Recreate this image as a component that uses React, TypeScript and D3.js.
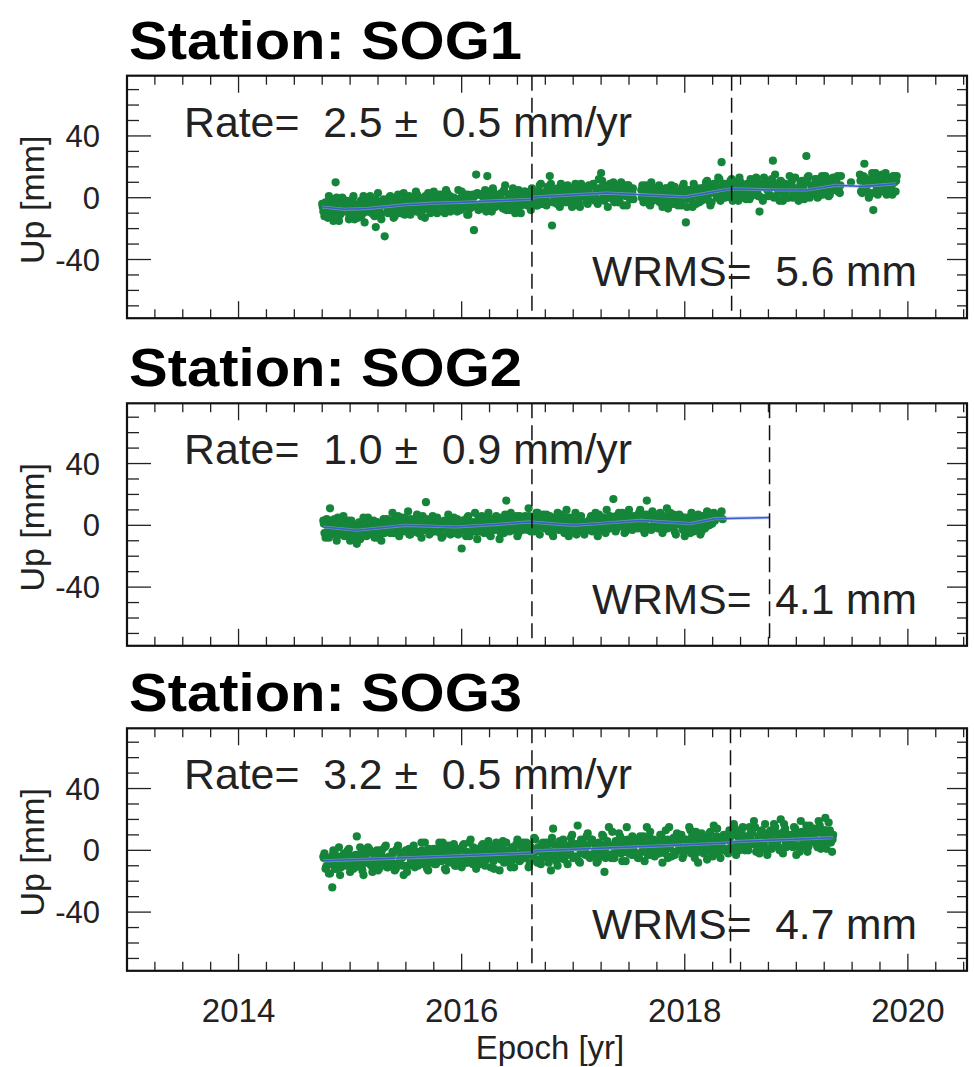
import React from "react";
import * as d3 from "d3";

// ---------- data ----------
const STEP = 0.02; // yr between plotted solutions in each list

const SOG1_START = 2014.75;
const SOG1_UP = [
  -4, -12, -6, 1, -9, -15, 10, -7, -11, 0,
  -8, -2, -14, -5, 1, -10, -13, -6, -3, -16,
  -6, 0, -8, -11, -19, 3, -10, -5, -25, -4,
  0, -6, -13, -1, 2, -8, -5, -11, -3, 1,
  -8, -3, 4, -9, -6, -1, -13, 1, -4, -7,
  4, -9, -1, 1, -4, -10, 3, -2, -7, 0,
  -5, 5, -8, -3, 2, -11, -1, -6, -21, 15,
  -8, 2, -3, 5, 14, 0, -9, 3, -2, -4,
  2, -7, 8, -3, -8, 3, 0, -5, 5, -10,
  1, 4, -5, -1, 6, -3, -5, 4, 9, -4,
  -2, 7, 14, -18, 5, 0, -4, 9, 1, -3,
  8, 0, -6, 5, 3, -3, 9, 1, 6, -4,
  2, 8, -1, 5, 12, 16, 3, 6, -6, 9,
  7, -3, 4, 1, 10, -5, 5, 8, -1, 3,
  null, null, null, 5, -3, 8, 1, -5, 4, 6,
  -1, 8, -3, 2, 6, -7, 4, 0, 7, -4,
  3, -5, 9, -16, 1, 5, -6, 7, 2, -3,
  -2, 6, 10, 2, -5, 8, 5, 0, 12, 23,
  9, 1, 5, 11, -2, 8, 3, 13, 0, 6,
  -1, 7, 12, 2, 9, 4, -9, 0, 13, 8,
  1, 11, 24, 15, 6, -2, 10, 2, 7, 0,
  8, 0, 13, 5, 2, 11, -1, 27, 14, 4,
  3, 12, 0, 9, 14, 5, 11, 1, 8, 13,
  5, 14, 3, null, null, null, null, 10, null, null,
  null, 15, 3, 22, 9, 0, 12, -8, 16, 2,
  5, 15, 9, 2, 12, 7, 14, 4,
];
const SOG1_START_B = 2014.76;
const SOG1_UP_B = [
  -9, -3, -13, -6, -2, -10, 0, -15, -7, -4,
  -2, -8, -11, -1, -14, -5, -7, -12, 1, -9,
  -9, 1, -4, -12, -2, -7, -14, -1, -5, -10,
  1, -7, -12, -2, -5, -10, 3, -8, -1, -11,
  -9, -2, 2, -5, -12, 0, -6, 3, -10, -3,
  0, -10, -3, 2, -7, 5, -4, -9, -1, -6,
  -9, -2, 4, -6, 1, -11, -3, 2, -5, 3,
  2, -7, 0, -9, 4, -3, 6, -6, -1, -5,
  -4, 5, -8, 2, -6, 6, -10, 0, 4, -3,
  4, -4, 1, -8, -1, 3, -5, 8, -2, 3,
  -5, 3, 9, -3, 0, 6, -6, 4, 7, -1,
  5, -4, 3, 9, -1, -6, 6, 2, -3, 8,
  -1, 9, 2, -4, 6, 11, -2, 4, 1, 7,
  10, 0, -3, 5, 2, 8, -5, 7, 3, -1,
  null, null, null, 8, -2, 4, -4, 10, 0, 5,
  6, -1, -6, 5, 1, -4, 8, -2, 3, -5,
  -2, 7, 2, -6, 5, -1, 9, -4, 1, 6,
  6, 0, 11, 3, -3, 9, 2, 13, -2, 7,
  0, 8, 4, 12, 2, 7, -2, 10, 6, 1,
  9, -1, 6, 3, 13, 1, 8, -2, 11, 5,
  2, 12, 0, 7, 4, 11, -2, 9, 5, 14,
  11, 1, 5, -2, 10, 7, 3, 13, 0, 8,
  5, 12, 1, 10, 3, 14, 7, 2, 11, 6,
  12, 5, 14, null, null, null, null, null, null, null,
  null, 4, 14, 7, 11, 2, 16, 10, 5, 13,
  11, 4, 16, 7, 13, 2, 10, 14,
];
const SOG1_START_C = 2014.755;
const SOG1_UP_C = [
  -6, -10, -3, -12, -7, -5, -11, -2, -9, -4,
  -9, -3, -12, -6, -4, -11, -7, -2, -10, -5,
  -3, -7, -10, -1, -8, -5, -11, -4, -2, -9,
  -8, 0, -4, -9, -3, -10, -2, -6, -1, -5,
  0, -6, -9, -1, -4, -8, 1, -5, -2, -7,
  -7, -2, 2, -5, 0, -8, -3, 1, -6, -1,
  -1, -8, 0, -4, -6, 2, -7, -2, 1, -5,
  -5, 2, -3, 0, -7, -1, 3, -6, -2, 1,
  3, -4, -2, -6, 2, -3, 0, -7, 3, -5,
  -3, 2, -5, 4, 0, -4, 4, -1, -4, 2,
  4, -3, 2, 6, -1, -4, 3, 0, 5, 1,
  1, 6, -1, 4, -3, 5, 2, 7, 0, 3,
  7, 1, -2, 4, 6, -1, 8, 3, 0, 5,
  -1, 4, 7, -2, 5, 3, 1, 8, -1, 6,
  null, null, null, 0, 6, -1, 3, 7, -2, 4,
  4, -3, 2, 0, 6, -2, 3, -4, 5, 1,
  -3, 3, 6, -1, 1, 4, -4, 2, 5, -2,
  5, 1, 8, -2, 6, 4, 9, 2, 0, 7,
  3, 9, 5, 0, 8, 10, 2, 6, 1, 7,
  8, 4, 1, 10, 5, 2, 9, 0, 7, 6,
  2, 7, 10, 1, 6, 9, 3, 5, 0, 8,
  9, 2, 6, 0, 8, 5, 3, 10, 1, 7,
  4, 9, 11, 6, 2, 10, 7, 12, 5, 8,
  10, 4, 8, null, null, null, null, null, null, null,
  null, 11, 6, 13, 4, 9, 3, 12, 8, 7,
  7, 13, 9, 5, 12, 8, 14, 11,
];
const SOG1_FIT_T = [2014.75, 2014.95, 2015.15, 2015.5, 2015.75, 2016.0, 2016.3, 2016.63, 2016.65, 2016.9, 2017.3, 2017.6, 2018.0, 2018.42, 2018.8, 2019.1, 2019.35, 2019.6, 2019.89];
const SOG1_FIT_UP = [-6, -7.5, -7, -4.5, -3.5, -3, -2, -1, 0.5, 1.5, 3, 2, 0.5, 5.8, 5, 5, 8, 7.3, 9];
const SOG1_BREAKS = [2016.63, 2018.42];

const SOG2_START = 2014.76;
const SOG2_UP = [
  3, -8, 1, 11, -5, 4, -10, 0, -6, 6,
  -5, 3, -10, 0, -2, -12, 2, -7, 5, -4,
  5, -5, -2, -8, 2, 0, -10, 4, -3, 1,
  -5, 8, -2, 1, -7, 5, 3, -4, 9, -6,
  2, -4, 7, -1, -8, 4, 15, 0, -5, 6,
  -4, 5, 0, -8, 2, -2, 7, -6, 1, -5,
  4, -3, -15, 3, -7, 6, -1, -4, 8, -9,
  -1, 6, -5, 3, 8, -7, 2, -3, 5, -9,
  5, -5, 16, -1, 8, -3, 2, -7, 6, 1,
  -2, 5, 11, -4, 3, 0, 8, -6, 6, 1,
  7, -4, 3, -7, 5, 8, -2, 1, -5, 10,
  -7, 3, -1, 8, -4, 5, 1, -6, 2, -3,
  6, -1, 8, -7, 1, 5, -4, 10, -2, 3,
  17, -4, 6, 1, 8, -5, 5, 10, -2, 3,
  5, -2, 10, 0, -5, 16, 7, -3, 4, 1,
  -2, 8, -5, 4, 11, -1, 2, 7, -6, 5,
  6, -2, -7, 5, 2, 8, -4, 0, 7, -6,
  6, -2, 9, 0, 3, 8, null, 7, null, 4,
];
const SOG2_START_B = 2014.77;
const SOG2_UP_B = [
  -5, 4, -8, 1, -2, -6, 5, -4, 2, -7,
  1, -5, 3, -8, -2, 0, -9, -3, -6, 2,
  -6, 0, 3, -3, -8, 1, -2, -5, 4, -4,
  3, -5, 0, 6, -2, -4, 5, -1, -6, 2,
  -2, 4, -5, 1, 6, -3, 2, -6, 3, 0,
  4, -4, 1, -7, -1, 3, -5, 0, 5, -3,
  -6, 0, 3, -3, 5, -7, 2, -1, -4, 4,
  2, -4, -1, 5, -6, 3, -2, 6, 0, -5,
  -2, 7, 2, -4, 4, -1, 6, -5, 3, 0,
  6, -3, 0, 5, -4, 8, 2, -1, 7, -2,
  -1, 6, -5, 2, 4, -3, 7, 0, -4, 3,
  5, -1, 3, -6, 0, 6, -4, 2, -2, 4,
  -4, 3, -2, 7, 0, 5, -5, 2, 6, -1,
  5, -2, 8, 0, 3, -4, 6, 1, -3, 4,
  0, 8, 2, -3, 7, 5, -1, 9, 3, 1,
  6, 0, -3, 5, 2, 8, -1, -4, 4, 7,
  0, 5, -3, 3, -5, 6, 2, -2, 4, -4,
  5, -1, 8, 2, 6, 3, null, null, 9, null,
];
const SOG2_START_C = 2014.765;
const SOG2_UP_C = [
  1, -5, -2, 3, -4, 0, -6, 2, -3, 1,
  -4, 0, -7, -1, -3, -6, 1, -5, -2, -7,
  1, -4, -1, -6, 2, -2, -5, 0, -3, 1,
  -3, 2, 4, -1, -4, 3, 0, -2, 1, 4,
  1, -4, 2, -2, 3, -3, 4, 0, -1, 2,
  -3, 2, -5, 0, 3, -2, -4, 1, -1, -5,
  2, -1, -3, 3, -5, 0, -2, 2, -4, 1,
  -4, 2, 3, -1, 1, -3, 4, -2, 0, 3,
  3, -2, 0, 5, -3, 1, 4, -1, 2, -3,
  -1, 3, 6, 0, 4, -2, 2, 5, 1, 4,
  5, -1, 1, -3, 4, 2, -2, 3, 0, 5,
  -2, 3, -4, 1, 0, 4, -1, -3, 2, -2,
  4, 0, 3, -3, 5, -1, 1, 4, -2, 2,
  0, 6, -1, 3, 5, -2, 4, 2, 1, 6,
  4, 0, 7, 1, 3, 6, -1, 5, 2, 7,
  -1, 4, 2, 6, -2, 3, 5, 0, 4, 1,
  3, -3, 4, 0, 2, -1, 5, 1, -2, 3,
  2, 6, 3, 7, 1, 5, null, null, null, null,
];
const SOG2_FIT_T = [2014.76, 2015.06, 2015.5, 2015.95, 2016.3, 2016.6, 2017.0, 2017.3, 2017.6, 2018.05, 2018.27, 2018.76];
const SOG2_FIT_UP = [-1.1, -3.2, 0, -1.1, 0.5, 2.2, 0, 1.5, 3.2, 1.1, 4.3, 5.0];
const SOG2_BREAKS = [2016.63, 2018.76];

const SOG3_START = 2014.76;
const SOG3_UP = [
  -4, -12, -5, -15, -24, -1, -8, 2, -11, -6,
  -9, 0, -14, -4, -11, 9, -7, -2, -16, -3,
  2, -9, -14, -4, 0, -12, -3, -7, 3, -11,
  -6, -1, -13, 1, -8, -3, -16, 0, -10, -5,
  1, -11, -1, -6, 5, -9, -4, -13, 0, -7,
  -9, -1, 5, -7, -2, -13, 3, -4, 0, -10,
  1, -6, -11, 4, -8, -2, 7, -9, -1, -5,
  -9, 3, -2, -6, 6, -11, 1, -4, 4, -13,
  0, -8, 5, -3, -11, 2, -5, 7, -7, -1,
  -5, 5, -11, 2, -3, 7, -8, -1, 4, -4,
  5, -8, -13, 14, -4, -10, 6, 0, -6, 3,
  -2, 8, -5, 2, 16, -8, 5, -1, 9, -4,
  7, -3, 1, -7, 4, 10, -14, 3, 15, -5,
  -5, 6, 0, 9, -7, 3, 15, -2, 7, 1,
  6, -5, 9, -1, -7, 15, 3, -3, 7, 2,
  -2, 10, -8, 5, 1, 15, -4, 8, -1, 4,
  10, -5, 7, 1, 15, -2, 4, 12, -8, 6,
  0, 7, -6, 11, 3, 16, -2, 6, -5, 9,
  7, -1, 13, 3, 17, -3, 9, 4, 15, 0,
  2, 15, 5, 19, -1, 9, 12, 3, 17, -3,
  12, 1, 17, 4, 8, 20, -2, 14, 3, 10,
  4, 15, -3, 11, 19, 2, 8, -1, 16, 6,
  14, 4, 19, 1, 10, 21, 6, 13, -1,
];
const SOG3_START_B = 2014.77;
const SOG3_UP_B = [
  -2, -10, -15, -5, 0, -12, -7, -16, -4, -8,
  -10, 1, -5, -12, -3, -8, 2, -13, -6, -2,
  1, -10, -2, -6, -13, 0, -8, 2, -11, -4,
  -7, -1, -12, 3, -5, -10, -2, -14, 1, -8,
  3, -5, -10, -1, -8, 5, -12, -2, -6, 1,
  -9, 1, -5, 5, -12, -2, 2, -7, 4, -10,
  0, -10, 3, -4, -8, 5, -6, -1, -12, 1,
  -7, 4, -10, 0, 3, -4, -12, 5, -2, -6,
  6, -5, -1, -8, 2, -11, 4, -3, -6, 5,
  -4, 4, -8, -1, 8, -6, 1, -9, 5, -2,
  4, -6, 8, -2, -7, 3, -4, 7, 1, -9,
  -1, 10, -4, 4, -7, 7, 1, -3, 11, -5,
  7, -2, -8, 5, 0, 9, -5, 3, -3, 12,
  -5, 5, 11, -2, 2, -7, 7, 0, 9, -3,
  7, -5, 5, 9, 0, -3, 12, 2, -4, 6,
  -2, 10, 1, 13, -5, 4, 7, -3, 11, 0,
  10, -3, 7, 0, 13, 3, -5, 9, 2, 11,
  -2, 8, 1, 12, -4, 6, 14, -1, 4, 10,
  8, -2, 11, 1, 14, 4, 0, 13, 3, 9,
  0, 11, 4, 15, 6, -2, 13, 3, 10, 1,
  13, 3, 15, 6, 0, 11, 17, 2, 9, 5,
  2, 14, 9, -1, 12, 5, 16, 3, 8, 13,
  11, 2, 16, 6, 13, 1, 18, 5, 10,
];
const SOG3_START_C = 2014.765;
const SOG3_UP_C = [
  -5, -11, -6, -9, -3, -12, -7, -4, -10, -2,
  -9, -2, -7, -4, -11, -3, -6, -10, -1, -8,
  -1, -7, -10, -4, -2, -8, 0, -6, -5, -9,
  -6, -2, -9, 0, -7, -5, -1, -10, -3, -8,
  -1, -9, -2, -5, 0, -7, -4, 1, -8, -3,
  -7, -1, -5, 2, -4, 0, -8, -3, 1, -6,
  -2, -6, 1, -8, -1, -3, -5, 2, -7, 0,
  -4, 3, -6, -1, 1, -3, -7, 0, 2, -5,
  2, -3, -5, 0, -7, 1, -2, -6, 3, -4,
  -4, 1, 4, -3, -1, -6, 2, 0, -5, 3,
  3, -4, -1, 4, -2, 2, -5, 5, 0, -3,
  -1, 5, 2, -4, 4, -2, 6, 0, 3, -3,
  5, -2, 1, 4, -4, 2, -1, 6, -3, 3,
  -2, 3, 5, 0, 7, -1, 2, 6, -3, 4,
  5, -2, 7, 2, 4, 0, 8, 1, 6, -1,
  0, 6, 3, -2, 7, 2, 5, -1, 8, 4,
  8, 2, 0, 6, 4, 9, 1, 5, -1, 7,
  3, 8, -1, 7, 1, 5, 9, 2, 4, 0,
  8, 1, 6, 3, 10, 0, 7, 9, 2, 5,
  2, 8, 11, 5, 3, 9, 6, 1, 10, 7,
  9, 4, 6, 11, 2, 8, 12, 5, 10, 3,
  4, 11, 8, 3, 9, 6, 12, 2, 10, 7,
  10, 6, 12, 4, 8, 13, 5, 9, 7,
];
const SOG3_FIT_T = [2014.76, 2015.86, 2016.64, 2016.66, 2017.69, 2018.42, 2018.44, 2019.33];
const SOG3_FIT_UP = [-6.8, -3.9, -1.7, -0.3, 2.6, 4.9, 5.6, 8.2];
const SOG3_BREAKS = [2016.63, 2018.41];

const STATION_NAMES = ["SOG1", "SOG2", "SOG3"];
const RATES = ["2.5", "1.0", "3.2"];
const RATE_ERRS = ["0.5", "0.9", "0.5"];
const WRMS = ["5.6", "4.1", "4.7"];

const X_DOMAIN = [2013, 2020.53];
const Y_DOMAIN = [-78, 79];
const X_TICKS = [2014, 2016, 2018, 2020];
const Y_TICKS = [-40, 0, 40];

// ---------- layout ----------
const W = 974;
const H = 1067;
const LEFT = 127;
const RIGHT = 967;
const PANEL_TOPS = [75.7, 403.3, 728.3];
const PANEL_H = 242.5;
const FONT = "'Liberation Sans', Arial, Helvetica, sans-serif";
const GREEN = "#15853a";
const BLUE = "#3a5ccc";

type Station = { lists: [number, (number | null)[]][]; fitT: number[]; fitUp: number[]; breaks: number[] };
const stations: Station[] = [
  { lists: [[SOG1_START, SOG1_UP], [SOG1_START_B, SOG1_UP_B], [SOG1_START_C, SOG1_UP_C]], fitT: SOG1_FIT_T, fitUp: SOG1_FIT_UP, breaks: SOG1_BREAKS },
  { lists: [[SOG2_START, SOG2_UP], [SOG2_START_B, SOG2_UP_B], [SOG2_START_C, SOG2_UP_C]], fitT: SOG2_FIT_T, fitUp: SOG2_FIT_UP, breaks: SOG2_BREAKS },
  { lists: [[SOG3_START, SOG3_UP], [SOG3_START_B, SOG3_UP_B], [SOG3_START_C, SOG3_UP_C]], fitT: SOG3_FIT_T, fitUp: SOG3_FIT_UP, breaks: SOG3_BREAKS },
];

function Panel({ idx }: { idx: number }) {
  const st = stations[idx];
  const top = PANEL_TOPS[idx];
  const bottom = top + PANEL_H;
  const x = d3.scaleLinear().domain(X_DOMAIN).range([LEFT, RIGHT]);
  const y = d3.scaleLinear().domain(Y_DOMAIN).range([bottom, top]);

  const pts: { t: number; v: number }[] = [];
  st.lists.forEach(([start, ups]) => {
    ups.forEach((v, i) => {
      if (v != null) pts.push({ t: start + i * STEP, v });
    });
  });

  const fitPairs = st.fitT.map((t, i) => [t, st.fitUp[i]] as [number, number]);
  const line = d3
    .line<[number, number]>()
    .x((d) => x(d[0]))
    .y((d) => y(d[1]));

  const xMinor = d3.range(2013.25, 2020.51, 0.25).filter((t) => !X_TICKS.some((m) => Math.abs(m - t) < 1e-6));
  const yMinor = d3.range(-70, 71, 10).filter((v) => !Y_TICKS.includes(v));

  return (
    <g>
      <g fill={GREEN}>
        {pts.map((p, i) => (
          <circle key={i} cx={x(p.t)} cy={y(p.v)} r={4.1} />
        ))}
      </g>
      <path d={line(fitPairs) || ""} fill="none" stroke="#8fa6e6" strokeWidth={3.2} opacity={0.6} />
      <path d={line(fitPairs) || ""} fill="none" stroke={BLUE} strokeWidth={1.5} />
      {st.breaks.map((b, i) => (
        <line key={i} x1={x(b)} x2={x(b)} y1={top} y2={bottom} stroke="#111" strokeWidth={1.5} strokeDasharray="15 7" />
      ))}
      <g stroke="#222" strokeWidth={1.3}>
        {X_TICKS.map((t) => (
          <g key={"M" + t}>
            <line x1={x(t)} x2={x(t)} y1={top} y2={top + 17} />
            <line x1={x(t)} x2={x(t)} y1={bottom} y2={bottom - 17} />
          </g>
        ))}
        {xMinor.map((t) => (
          <g key={"m" + t}>
            <line x1={x(t)} x2={x(t)} y1={top} y2={top + 9} />
            <line x1={x(t)} x2={x(t)} y1={bottom} y2={bottom - 9} />
          </g>
        ))}
        {Y_TICKS.map((v) => (
          <g key={"YM" + v}>
            <line x1={LEFT} x2={LEFT + 24} y1={y(v)} y2={y(v)} />
            <line x1={RIGHT} x2={RIGHT - 20} y1={y(v)} y2={y(v)} />
          </g>
        ))}
        {yMinor.map((v) => (
          <g key={"ym" + v}>
            <line x1={LEFT} x2={LEFT + 12} y1={y(v)} y2={y(v)} />
            <line x1={RIGHT} x2={RIGHT - 10} y1={y(v)} y2={y(v)} />
          </g>
        ))}
      </g>
      <rect x={LEFT} y={top} width={RIGHT - LEFT} height={PANEL_H} fill="none" stroke="#111" strokeWidth={2.2} />
      {Y_TICKS.map((v) => (
        <text key={"yl" + v} x={100} y={y(v)} dy="0.36em" textAnchor="end" fontSize={31} fontFamily={FONT} fill="#222">
          {v}
        </text>
      ))}
      <text
        transform={`translate(44,${y(0) + 2}) rotate(-90)`}
        textAnchor="middle"
        fontSize={34}
        fontFamily={FONT}
        fill="#222"
      >
        Up [mm]
      </text>
      <text
        x={129}
        y={top - 17}
        fontSize={54}
        fontWeight="bold"
        fontFamily={FONT}
        fill="#000"
        textLength={393}
        lengthAdjust="spacingAndGlyphs"
      >
        {"Station: " + STATION_NAMES[idx]}
      </text>
      <text
        x={184}
        y={top + 61}
        fontSize={42}
        fontFamily={FONT}
        fill="#222"
        style={{ whiteSpace: "pre" }}
        textLength={448}
        lengthAdjust="spacingAndGlyphs"
      >
        {`Rate=  ${RATES[idx]} \u00b1  ${RATE_ERRS[idx]} mm/yr`}
      </text>
      <text
        x={592}
        y={bottom - 32}
        fontSize={42}
        fontFamily={FONT}
        fill="#222"
        style={{ whiteSpace: "pre" }}
        textLength={325}
        lengthAdjust="spacingAndGlyphs"
      >
        {`WRMS=  ${WRMS[idx]} mm`}
      </text>
    </g>
  );
}

export default function App() {
  const x = d3.scaleLinear().domain(X_DOMAIN).range([LEFT, RIGHT]);
  const lastBottom = PANEL_TOPS[2] + PANEL_H;
  return (
    <svg
      width={W}
      height={H}
      viewBox={`0 0 ${W} ${H}`}
      style={{ position: "absolute", left: 0, top: 0, background: "#fff" }}
    >
      <rect x={0} y={0} width={W} height={H} fill="#fff" />
      {STATION_NAMES.map((_, i) => (
        <Panel key={i} idx={i} />
      ))}
      {X_TICKS.map((t) => (
        <text key={t} x={x(t)} y={lastBottom + 51} textAnchor="middle" fontSize={33} fontFamily={FONT} fill="#222">
          {t}
        </text>
      ))}
      <text x={(LEFT + RIGHT) / 2 + 3} y={lastBottom + 88} textAnchor="middle" fontSize={33} fontFamily={FONT} fill="#222">
        Epoch [yr]
      </text>
    </svg>
  );
}
